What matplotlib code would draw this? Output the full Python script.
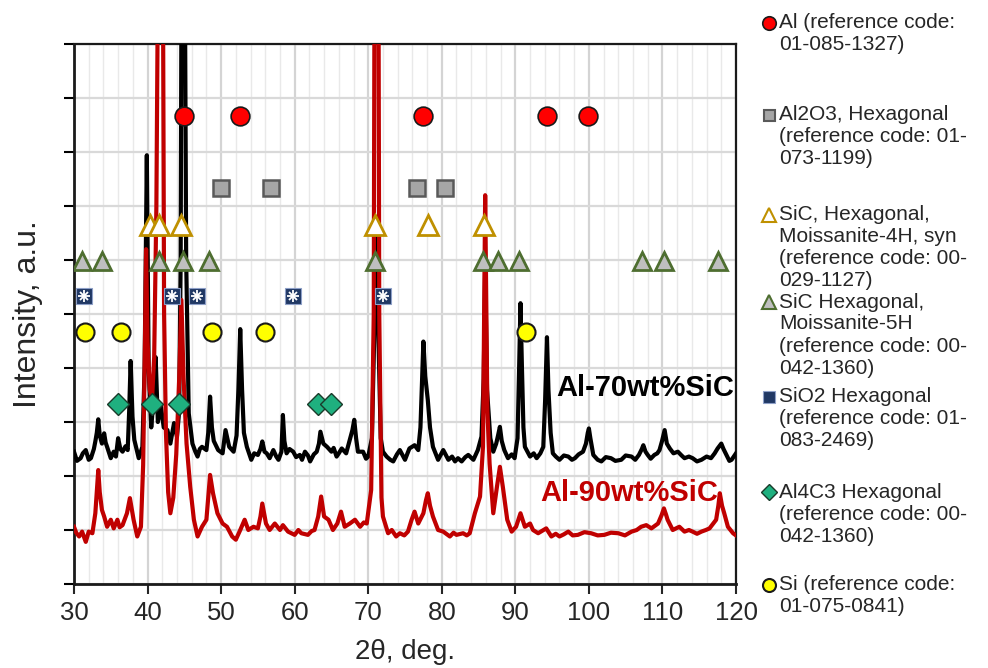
import numpy as np
import matplotlib.pyplot as plt
from matplotlib.lines import Line2D

plt.rcParams['font.family'] = ['Liberation Sans', 'DejaVu Sans']

# --- XRD pattern of Al-70wt%SiC (2theta, intensity in grid units) ---
black_tt = [30.0, 30.4, 30.9, 31.2, 31.6, 32.0, 32.3, 32.7, 32.9, 33.1, 33.3, 33.5, 33.8, 34.1,
            34.3, 34.5, 35.0, 35.4, 35.7, 36.0, 36.3, 36.6, 37.0, 37.3, 37.5, 37.7, 37.95, 38.2,
            38.8, 39.3, 39.6, 39.9, 40.15, 40.5, 40.8, 41.1, 41.4, 41.8, 42.2, 42.7, 43.1, 43.6,
            44.0, 44.3, 44.5, 44.6, 44.85, 45.1, 45.25, 45.6, 46.1, 46.5, 46.8, 47.1, 47.4, 48.0,
            48.25, 48.5, 48.75, 49.0, 49.6, 50.2, 50.6, 51.1, 51.7, 52.1, 52.35, 52.6, 52.85, 53.1,
            53.5, 54.1, 54.5, 55.0, 55.35, 55.6, 55.9, 56.2, 56.6, 57.1, 57.5, 57.8, 58.2, 58.4,
            58.6, 58.9, 59.3, 59.8, 60.2, 60.7, 61.0, 61.4, 61.8, 62.1, 62.6, 63.0, 63.3, 63.5,
            63.9, 64.4, 65.0, 65.3, 65.7, 66.0, 66.4, 67.0, 67.5, 67.85, 68.1, 68.35, 68.6, 69.3,
            69.7, 70.0, 70.5, 70.8, 71.1, 71.4, 71.7, 72.0, 72.5, 73.0, 73.4, 73.9, 74.3, 75.0,
            75.6, 76.3, 76.8, 77.1, 77.3, 77.5, 77.75, 78.1, 78.4, 78.8, 79.5, 80.2, 80.9, 81.4,
            81.8, 82.2, 82.7, 83.2, 83.6, 84.3, 84.9, 85.4, 85.7, 85.9, 86.15, 86.6, 87.0, 87.4,
            87.65, 87.9, 88.15, 88.5, 89.0, 89.5, 89.9, 90.3, 90.5, 90.7, 90.9, 91.1, 91.3, 92.0,
            92.5, 92.9, 93.4, 93.8, 94.05, 94.3, 94.5, 94.8, 95.1, 95.5, 96.0, 96.6, 97.2, 97.7,
            98.1, 98.6, 99.2, 99.6, 99.85, 100.0, 100.2, 100.6, 101.2, 101.7, 102.3, 103.0, 103.6,
            104.4, 105.0, 105.8, 106.3, 106.8, 107.2, 107.4, 107.7, 108.0, 108.4, 108.9, 109.3,
            109.6, 109.95, 110.3, 110.6, 111.0, 111.5, 112.1, 112.6, 113.0, 113.6, 114.1, 114.7,
            115.3, 116.0, 116.6, 117.1, 117.5, 118.0, 118.3, 118.7, 119.1, 119.4, 120.0]
black_int = [2.45, 2.28, 2.33, 2.42, 2.48, 2.30, 2.33, 2.50, 2.64, 2.80, 3.05, 2.75, 2.60, 2.79,
             2.62, 2.54, 2.33, 2.45, 2.36, 2.70, 2.50, 2.45, 2.55, 2.48, 3.20, 4.13, 3.10, 2.67,
             2.33, 2.54, 4.00, 7.94, 4.00, 2.90, 3.40, 4.20, 3.00, 3.30, 2.90, 2.85, 2.60, 2.98,
             2.73, 3.20, 6.00, 10.5, 14.0, 10.5, 6.00, 3.16, 2.60, 2.45, 2.36, 2.50, 2.54, 2.48,
             2.80, 3.47, 2.90, 2.65, 2.48, 2.42, 2.85, 2.54, 2.45, 2.75, 3.60, 4.72, 3.60, 2.80,
             2.54, 2.30, 2.42, 2.39, 2.50, 2.64, 2.45, 2.42, 2.33, 2.48, 2.36, 2.30, 2.45, 3.13,
             2.65, 2.42, 2.50, 2.45, 2.35, 2.39, 2.30, 2.45, 2.38, 2.27, 2.40, 2.45, 2.60, 2.82,
             2.60, 2.54, 2.45, 2.52, 2.36, 2.42, 2.51, 2.42, 2.67, 2.85, 3.04, 2.70, 2.45, 2.45,
             2.32, 2.36, 2.70, 4.50, 6.80, 4.50, 2.70, 2.45, 2.36, 2.30, 2.27, 2.40, 2.48, 2.30,
             2.51, 2.57, 2.48, 2.90, 3.70, 4.49, 3.85, 3.41, 2.90, 2.54, 2.30, 2.48, 2.30, 2.36,
             2.27, 2.33, 2.27, 2.35, 2.39, 2.30, 2.48, 2.73, 3.80, 5.90, 3.60, 2.70, 2.45, 2.60,
             2.75, 2.91, 2.65, 2.48, 2.33, 2.40, 2.33, 2.70, 3.90, 5.20, 4.00, 2.90, 2.54, 2.36,
             2.42, 2.33, 2.42, 2.54, 3.40, 4.57, 3.60, 2.80, 2.42, 2.36, 2.30, 2.38, 2.36, 2.30,
             2.33, 2.40, 2.45, 2.60, 2.80, 2.88, 2.70, 2.39, 2.30, 2.27, 2.35, 2.33, 2.28,
             2.30, 2.38, 2.36, 2.30, 2.39, 2.50, 2.57, 2.45, 2.39, 2.32, 2.39, 2.42,
             2.48, 2.65, 2.85, 2.60, 2.51, 2.42, 2.45, 2.38, 2.33, 2.36, 2.33, 2.27,
             2.30, 2.36, 2.33, 2.42, 2.51, 2.60, 2.50, 2.39, 2.28, 2.30, 2.42]

# --- XRD pattern of Al-90wt%SiC ---
red_tt = [30.0, 30.3, 30.7, 31.1, 31.6, 32.0, 32.5, 32.9, 33.1, 33.3, 33.5, 33.8, 34.1, 34.5,
          35.0, 35.4, 35.9, 36.2, 36.6, 37.2, 37.6, 38.1, 38.6, 39.1, 39.4, 39.65, 39.8, 40.0,
          40.3, 40.6, 40.9, 41.2, 41.4, 41.75, 42.1, 42.25, 42.5, 42.8, 43.1, 43.5, 43.9, 44.3,
          44.6, 44.9, 45.3, 45.8, 46.3, 46.8, 47.4, 48.0, 48.25, 48.5, 48.9, 49.5, 50.2, 50.8,
          51.5, 52.0, 52.6, 53.2, 53.7, 54.4, 55.0, 55.35, 55.6, 56.1, 56.6, 57.3, 58.0, 58.4,
          59.1, 60.0, 60.5, 60.9, 61.8, 62.3, 62.7, 63.2, 63.6, 64.0, 64.6, 65.2, 65.8, 66.3,
          66.8, 67.5, 68.2, 68.9, 69.4, 69.8, 70.4, 70.75, 70.85, 71.1, 71.4, 71.5, 71.8, 72.0,
          72.7, 73.2, 73.8, 74.3, 74.9, 75.4, 75.9, 76.3, 76.8, 77.5, 77.85, 78.1, 78.4, 78.8,
          79.5, 80.2, 80.7, 81.1, 81.6, 82.0, 82.9, 83.4, 83.8, 84.5, 85.2, 85.6, 85.9, 86.2,
          86.5, 87.0, 87.5, 87.9, 88.3, 88.9, 89.5, 90.1, 90.7, 91.3, 92.0, 92.4, 93.1, 94.2,
          94.9, 95.5, 96.0, 96.6, 97.2, 97.8, 98.5, 99.4, 100.3, 101.2, 102.1, 103.0, 104.0,
          104.9, 105.8, 106.5, 107.1, 107.8, 108.5, 109.4, 109.9, 110.2, 110.5, 110.7, 111.4,
          112.3, 113.0, 113.6, 114.1, 114.7, 115.3, 115.9, 116.4, 117.3, 117.6, 117.8, 118.1,
          118.4, 118.9, 119.6, 120.0]
red_int = [1.06, 0.95, 0.88, 0.97, 0.78, 0.97, 0.94, 1.31, 1.70, 2.11, 1.70, 1.37, 1.25, 1.06,
           1.19, 1.03, 1.19, 1.05, 1.09, 1.31, 1.59, 1.19, 0.88, 1.06, 2.20, 4.50, 6.20, 4.50,
           3.60, 3.40, 4.20, 7.00, 11.0, 14.0, 11.0, 5.00, 2.80, 1.70, 1.31, 1.60, 2.40, 3.80,
           5.26, 3.80, 2.60, 1.80, 1.19, 0.88, 1.06, 1.19, 1.60, 2.02, 1.68, 1.31, 1.12, 1.06,
           0.88, 0.82, 1.00, 1.19, 1.00, 1.06, 1.03, 1.25, 1.49, 1.12, 1.00, 1.12, 1.00, 1.09,
           0.97, 0.91, 1.00, 0.94, 0.91, 0.98, 1.00, 1.25, 1.62, 1.25, 1.19, 1.00, 1.12, 1.34,
           1.06, 1.12, 1.19, 1.06, 1.14, 1.12, 1.74, 5.00, 11.0, 14.0, 11.0, 5.00, 1.60, 1.25,
           0.94, 1.00, 0.88, 0.94, 0.90, 0.97, 1.19, 1.34, 1.12, 1.31, 1.55, 1.68, 1.45, 1.25,
           1.00, 0.97, 0.92, 0.88, 0.95, 0.91, 0.94, 0.90, 0.94, 1.31, 1.62, 2.54, 7.20, 3.20,
           2.23, 1.31, 1.80, 2.17, 1.80, 1.19, 0.97, 1.06, 1.31, 1.06, 1.12, 1.00, 0.94, 1.03,
           0.88, 0.93, 0.88, 0.92, 0.97, 0.90, 0.91, 0.96, 0.94, 0.90, 0.91, 0.95, 0.94,
           0.90, 0.97, 1.00, 1.06, 1.09, 1.03, 1.12, 1.28, 1.40, 1.28, 1.19, 1.00,
           1.06, 0.97, 1.00, 0.97, 0.93, 0.97, 1.00, 1.03, 1.19, 1.45, 1.68, 1.45,
           1.31, 1.06, 0.94, 0.90]

# --- phase markers (2theta positions, row level) ---
al_pos = [45.0, 52.5, 77.4, 94.3, 99.9]
al_row = 8.67
al2o3_pos = [50.0, 56.8, 76.6, 80.4]
al2o3_row = 7.33
sic4h_pos = [40.3, 41.5, 44.5, 70.9, 78.1, 85.8]
sic4h_row = 6.65
sic5h_pos = [31.1, 33.8, 41.5, 44.8, 48.3, 70.9, 85.6, 87.7, 90.5, 107.2, 110.2, 117.5]
sic5h_row = 5.98
sio2_pos = [31.4, 43.3, 46.7, 59.8, 72.0]
sio2_row = 5.33
al4c3_pos = [36.0, 40.6, 44.3, 63.2, 64.9]
al4c3_row = 3.33
si_pos = [31.5, 36.4, 48.8, 56.0, 91.5]
si_row = 4.67

legend_labels = [
    'Al (reference code:\n01-085-1327)',
    'Al2O3, Hexagonal\n(reference code: 01-\n073-1199)',
    'SiC, Hexagonal,\nMoissanite-4H, syn\n(reference code: 00-\n029-1127)',
    'SiC Hexagonal,\nMoissanite-5H\n(reference code: 00-\n042-1360)',
    'SiO2 Hexagonal\n(reference code: 01-\n083-2469)',
    'Al4C3 Hexagonal\n(reference code: 00-\n042-1360)',
    'Si (reference code:\n01-075-0841)',
]
x_ticks = [30, 40, 50, 60, 70, 80, 90, 100, 110, 120]

RED = '#C00000'
styles = [
    dict(marker='o', mfc='#FF0000', mec='#1a1a1a', ms=13.5, mew=1.2),
    dict(marker='s', mfc='#A6A6A6', mec='#595959', ms=11, mew=1.8),
    dict(marker='^', mfc='white', mec='#BF9000', ms=14, mew=2.0),
    dict(marker='^', mfc='#BFBFBF', mec='#4E6E30', ms=13.5, mew=2.0),
    dict(marker='s', mfc='#203864', mec='#8EA0C8', ms=11.5, mew=0.8),
    dict(marker='D', mfc='#1FB07F', mec='#1a3a2a', ms=11, mew=1.0),
    dict(marker='o', mfc='#FFFF00', mec='#1a1a1a', ms=13, mew=1.5),
]

fig = plt.figure(figsize=(9.88, 6.68), dpi=100)
ax = fig.add_axes([74 / 988, 1 - 584 / 668, (736 - 74) / 988, (584 - 44) / 668])

ax.set_xlim(30, 120)
ax.set_ylim(0, 10)
ax.set_xticks(x_ticks)
ax.set_xticks(np.arange(30, 121, 2), minor=True)
ax.set_yticks(np.arange(0, 11, 1))
ax.set_yticklabels([])
ax.grid(True, which='major', axis='x', color='#D4D4D4', lw=1.6, zorder=0)
ax.grid(True, which='minor', axis='x', color='#E9E9E9', lw=1.0, zorder=0)
ax.grid(True, which='major', axis='y', color='#D9D9D9', lw=1.6, zorder=0)
ax.tick_params(axis='x', which='major', direction='out', length=7, width=1.5,
               labelsize=18.5, colors='#262626', pad=5)
ax.tick_params(axis='x', which='minor', length=0)
ax.tick_params(axis='y', direction='out', length=7, width=1.5)
for s in ax.spines.values():
    s.set_color('#1a1a1a')
    s.set_linewidth(1.6)
ax.spines['left'].set_linewidth(2.0)
ax.spines['bottom'].set_linewidth(2.0)

ax.plot(black_tt, black_int, color='black', lw=3.0, zorder=3, solid_joinstyle='round')
ax.plot(red_tt, red_int, color=RED, lw=3.0, zorder=4, solid_joinstyle='round')

rows = [(al_pos, al_row), (al2o3_pos, al2o3_row), (sic4h_pos, sic4h_row), (sic5h_pos, sic5h_row),
        (sio2_pos, sio2_row), (al4c3_pos, al4c3_row), (si_pos, si_row)]
for i, (pos, row) in enumerate(rows):
    ax.plot(pos, [row] * len(pos), ls='none', zorder=6, **styles[i])
    if i == 4:
        ax.plot(pos, [row] * len(pos), ls='none', marker='+', color='white', ms=8, mew=1.3, zorder=7)
        ax.plot(pos, [row] * len(pos), ls='none', marker='x', color='white', ms=6, mew=1.3, zorder=7)

ax.text(95.5, 3.63, 'Al-70wt%SiC', color='black', fontsize=21, fontweight='bold', va='center')
ax.text(93.4, 1.69, 'Al-90wt%SiC', color=RED, fontsize=21, fontweight='bold', va='center')

ax.set_xlabel('2θ, deg.', fontsize=20, color='#262626', labelpad=10)
ax.set_ylabel('Intensity, a.u.', fontsize=23, color='#262626', labelpad=12)

# --- manual legend to the right ---
first_y = [23, 115, 215, 302, 397, 492, 585]
for lab, y0, st in zip(legend_labels, first_y, styles):
    st2 = dict(st)
    st2['ms'] = st['ms'] * 0.72
    st2['mew'] = min(st['mew'], 1.5)
    fig.lines.append(Line2D([769 / 988], [1 - y0 / 668], transform=fig.transFigure, ls='none', **st2))
    for k, line in enumerate(lab.split('\n')):
        fig.text(779 / 988, 1 - (y0 + 22 * k) / 668, line, fontsize=15, color='#262626',
                 va='center', ha='left')

fig.savefig('out.png', dpi=100)
